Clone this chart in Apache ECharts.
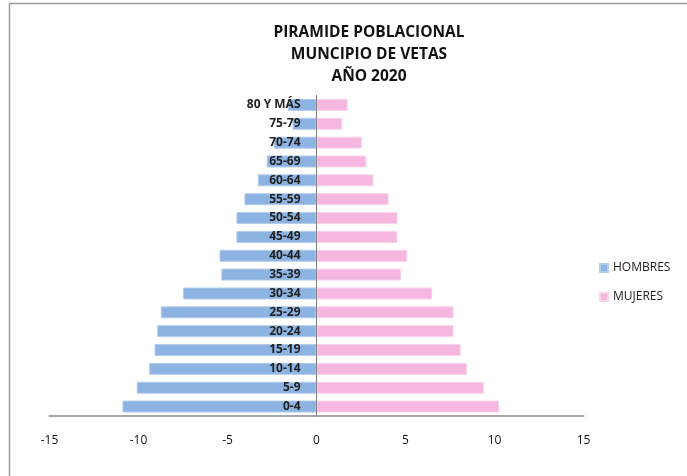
<!DOCTYPE html>
<html>
<head>
<meta charset="utf-8">
<script src="https://cdn.jsdelivr.net/npm/echarts@6/dist/echarts.min.js"></script>
<style>html,body{margin:0;padding:0;background:#fff}#c{width:687px;height:476px}</style>
</head>
<body>
<div id="c"></div>
<script>
const titleLines = ['PIRAMIDE POBLACIONAL', 'MUNCIPIO DE VETAS', 'AÑO 2020'];
const categories = ['0-4','5-9','10-14','15-19','20-24','25-29','30-34','35-39','40-44','45-49','50-54','55-59','60-64','65-69','70-74','75-79','80 Y MÁS'];
const hombres = [10.9, 10.1, 9.4, 9.1, 8.95, 8.75, 7.5, 5.35, 5.45, 4.5, 4.5, 4.05, 3.3, 2.8, 2.4, 1.35, 1.6];
const mujeres = [10.25, 9.4, 8.45, 8.1, 7.7, 7.7, 6.5, 4.75, 5.1, 4.55, 4.55, 4.05, 3.2, 2.8, 2.55, 1.45, 1.75];
const xTicks = { min: -15, max: 15, interval: 5 };

const gridLeft = 49.5, gridRight = 103.5;
const plotW = 687 - gridLeft - gridRight;
const zeroOffset = plotW * (0 - xTicks.min) / (xTicks.max - xTicks.min);

const chart = echarts.init(document.getElementById('c'), null, { renderer: 'canvas' });
const font = 'Open Sans, Liberation Sans, sans-serif';
chart.setOption({
  animation: false,
  textStyle: { fontFamily: font },
  title: {
    text: titleLines.join('\n'),
    left: 364, top: 17, textAlign: 'center',
    textStyle: { fontSize: 15.5, fontWeight: 'bold', color: '#111', lineHeight: 22, fontFamily: font }
  },
  legend: {
    orient: 'vertical', left: 594, top: 257, itemWidth: 8, itemHeight: 8, itemGap: 17,
    icon: 'rect',
    textStyle: { fontSize: 12, color: '#222', fontFamily: font },
    data: ['HOMBRES', 'MUJERES']
  },
  grid: { left: gridLeft, right: gridRight, top: 95.5, bottom: 60, containLabel: false, outerBoundsMode: 'none' },
  xAxis: {
    type: 'value', min: xTicks.min, max: xTicks.max, interval: xTicks.interval,
    axisLine: { show: true, onZero: false, lineStyle: { color: '#a6a6a6', width: 2 } },
    axisTick: { show: false },
    splitLine: { show: false },
    axisLabel: { margin: 19, fontSize: 12, color: '#111', fontFamily: font }
  },
  yAxis: {
    type: 'category', data: categories, z: 10,
    offset: -zeroOffset,
    axisLine: { show: true, onZero: false, lineStyle: { color: '#808080', width: 1 } },
    axisTick: { show: false },
    axisLabel: { margin: 16, fontSize: 12, fontWeight: 'bold', color: '#222', fontFamily: font }
  },
  series: [
    {
      name: 'HOMBRES', type: 'bar', stack: 'total', barWidth: 12,
      itemStyle: { color: '#8db3e2', borderColor: '#b4cdec', borderWidth: 1 },
      data: hombres.map(v => -v)
    },
    {
      name: 'MUJERES', type: 'bar', stack: 'total', barWidth: 12,
      itemStyle: { color: '#f5b7df', borderColor: '#f9d4ec', borderWidth: 1 },
      data: mujeres
    }
  ],
  graphic: [
    { type: 'line', shape: { x1: 9.5, y1: 3.5, x2: 687, y2: 3.5 }, style: { stroke: '#9a9a9a', lineWidth: 1.5 } },
    { type: 'line', shape: { x1: 9.5, y1: 3.5, x2: 9.5, y2: 476 }, style: { stroke: '#9a9a9a', lineWidth: 1.5 } }
  ]
});
</script>
</body>
</html>
